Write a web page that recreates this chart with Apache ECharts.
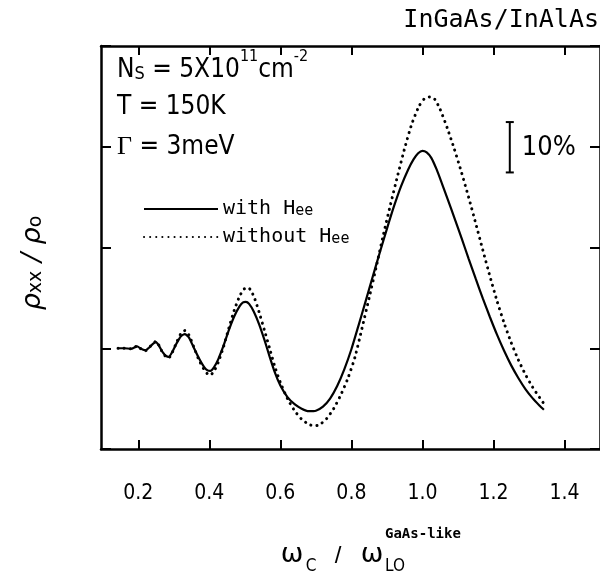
<!DOCTYPE html>
<html>
<head>
<meta charset="utf-8">
<script src="https://cdn.jsdelivr.net/npm/echarts@6/dist/echarts.min.js"></script>
<style>html,body{margin:0;padding:0;background:#fff}#c{width:600px;height:576px}</style>
</head>
<body>
<div id="c"></div>
<script>
// ---- data (x = ωc/ωLO, y = ρxx/ρ0) ----
var xTicks = [0.2, 0.4, 0.6, 0.8, 1.0, 1.2, 1.4];
var withHee = [
  [0.143,1.000],[0.160,1.000],[0.180,0.999],[0.190,1.002],[0.197,1.004],[0.205,1.000],[0.214,0.997],[0.220,0.996],
  [0.230,1.001],[0.242,1.009],[0.250,1.012],[0.258,1.005],[0.268,0.993],[0.278,0.985],[0.286,0.983],[0.296,0.993],
  [0.308,1.010],[0.320,1.024],[0.331,1.028],[0.342,1.022],[0.355,1.003],[0.370,0.981],[0.385,0.963],[0.395,0.956],
  [0.403,0.955],[0.413,0.962],[0.425,0.978],[0.440,1.005],[0.455,1.036],[0.470,1.063],[0.485,1.083],[0.495,1.091],
  [0.503,1.092],[0.512,1.088],[0.525,1.073],[0.540,1.048],[0.555,1.017],[0.570,0.983],[0.585,0.951],[0.600,0.926],
  [0.620,0.903],[0.640,0.889],[0.660,0.880],[0.680,0.875],[0.700,0.876],[0.720,0.884],[0.740,0.900],[0.760,0.925],
  [0.780,0.958],[0.800,0.998],[0.820,1.045],[0.840,1.093],[0.860,1.142],[0.880,1.190],[0.900,1.237],[0.920,1.282],
  [0.940,1.322],[0.960,1.355],[0.975,1.375],[0.988,1.387],[1.000,1.392],[1.012,1.389],[1.025,1.378],[1.040,1.355],
  [1.055,1.327],[1.070,1.298],[1.090,1.259],[1.110,1.219],[1.130,1.178],[1.150,1.138],[1.170,1.099],[1.190,1.062],
  [1.210,1.027],[1.230,0.995],[1.250,0.966],[1.270,0.941],[1.290,0.919],[1.310,0.901],[1.330,0.886],[1.342,0.878]
];
var withoutHee = [
  [0.143,1.000],[0.160,1.000],[0.180,0.999],[0.190,1.002],[0.197,1.005],[0.205,1.000],[0.214,0.996],[0.220,0.995],
  [0.230,1.001],[0.242,1.010],[0.250,1.014],[0.258,1.006],[0.268,0.992],[0.278,0.983],[0.286,0.981],[0.296,0.992],
  [0.308,1.012],[0.320,1.029],[0.331,1.035],[0.342,1.027],[0.355,1.005],[0.370,0.978],[0.385,0.958],[0.395,0.949],
  [0.403,0.947],[0.413,0.954],[0.425,0.972],[0.440,1.003],[0.455,1.040],[0.470,1.075],[0.485,1.103],[0.497,1.117],
  [0.508,1.121],[0.517,1.115],[0.528,1.098],[0.540,1.072],[0.555,1.036],[0.570,0.999],[0.585,0.962],[0.600,0.932],
  [0.620,0.900],[0.640,0.876],[0.660,0.859],[0.680,0.849],[0.695,0.846],[0.710,0.848],[0.730,0.860],[0.750,0.880],
  [0.770,0.907],[0.790,0.940],[0.810,0.982],[0.830,1.040],[0.850,1.100],[0.870,1.162],[0.890,1.225],[0.910,1.285],
  [0.930,1.342],[0.950,1.397],[0.970,1.445],[0.990,1.480],[1.005,1.495],[1.020,1.499],[1.035,1.494],[1.050,1.474],
  [1.070,1.437],[1.090,1.395],[1.110,1.349],[1.130,1.300],[1.150,1.248],[1.170,1.195],[1.190,1.143],[1.210,1.094],
  [1.230,1.050],[1.250,1.011],[1.270,0.977],[1.290,0.948],[1.310,0.923],[1.330,0.902],[1.345,0.887]
];
var scaleBar = [1.246, 1.349, 1.449]; // x, y0, y1 : a 10% bar

var NARROW = '"Liberation Sans Narrow", "DejaVu Sans Condensed", "Liberation Sans"';
var chart = echarts.init(document.getElementById('c'));
var axisCommon = {
  type: 'value', min: 0.095, max: 1.5,
  axisLine: { show: true, onZero: false, lineStyle: { color: '#000', width: 2.5 } },
  axisTick: { show: true, inside: true, length: 9, customValues: xTicks, lineStyle: { color: '#000', width: 2 } },
  splitLine: { show: false }
};
var yCommon = {
  type: 'value', min: 0.8, max: 1.6, interval: 0.2,
  axisLine: { show: true, onZero: false, lineStyle: { color: '#000', width: 2.5 } },
  axisTick: { show: true, inside: true, length: 10, lineStyle: { color: '#000', width: 2 } },
  axisLabel: { show: false },
  splitLine: { show: false }
};
var option = {
  animation: false,
  backgroundColor: '#fff',
  grid: { left: 101, right: -4, top: 46, bottom: 127, containLabel: false },
  xAxis: [
    Object.assign({}, axisCommon, {
      position: 'bottom',
      axisLabel: { show: true, customValues: xTicks, margin: 34, color: '#000',
        fontFamily: NARROW, fontSize: 21,
        formatter: function (v) { return v.toFixed(1); } }
    }),
    Object.assign({}, axisCommon, { position: 'top', axisLabel: { show: false } })
  ],
  yAxis: [
    Object.assign({}, yCommon, { position: 'left' }),
    Object.assign({}, yCommon, { position: 'right' })
  ],
  legend: {
    left: 143, top: 199, orient: 'vertical', padding: 0, itemWidth: 74, itemHeight: 14, itemGap: 8,
    data: ['with Hee', 'without Hee'],
    itemStyle: { opacity: 0 },
    formatter: function (n) { return n === 'with Hee' ? '{t|with H}{s|ee}' : '{t|without H}{s|ee}'; },
    textStyle: { color: '#000', rich: {
      t: { fontFamily: 'DejaVu Sans Mono', fontSize: 20, lineHeight: 20 },
      s: { fontFamily: 'DejaVu Sans Mono', fontSize: 15, lineHeight: 20, verticalAlign: 'bottom' }
    } }
  },
  series: [
    { name: 'with Hee', type: 'line', data: withHee, showSymbol: false, symbol: 'none', smooth: 0.2,
      lineStyle: { color: '#000', width: 2.2 }, itemStyle: { color: '#000' } },
    { name: 'without Hee', type: 'line', data: withoutHee, showSymbol: false, symbol: 'none', smooth: 0.2,
      lineStyle: { color: '#000', width: 3, type: [0.1, 6], cap: 'round' }, itemStyle: { color: '#000' } }
  ]
};
chart.setOption(option);

var p0 = chart.convertToPixel({ gridIndex: 0 }, [scaleBar[0], scaleBar[1]]);
var p1 = chart.convertToPixel({ gridIndex: 0 }, [scaleBar[0], scaleBar[2]]);
var ls = { stroke: '#000', lineWidth: 2 };
chart.setOption({
  graphic: [
    { type: 'line', shape: { x1: p0[0], y1: p0[1], x2: p1[0], y2: p1[1] }, style: ls },
    { type: 'line', shape: { x1: p0[0] - 4, y1: p0[1], x2: p0[0] + 4, y2: p0[1] }, style: ls },
    { type: 'line', shape: { x1: p1[0] - 4, y1: p1[1], x2: p1[0] + 4, y2: p1[1] }, style: ls },
    { type: 'text', x: p0[0] + 12, y: (p0[1] + p1[1]) / 2 + 1, style: { text: '10%', fill: '#000',
      font: '27px ' + NARROW, verticalAlign: 'middle', align: 'left' } },
    { type: 'text', x: 599, y: 20, style: { text: 'InGaAs/InAlAs', fill: '#000',
      font: '25px "DejaVu Sans Mono"', align: 'right', verticalAlign: 'middle' } },
    { type: 'text', x: 117, y: 66, style: {
      text: '{a|N}{s|S}{a| = 5X10}{p|11}{a|cm}{p|-2}', fill: '#000', verticalAlign: 'middle',
      rich: {
        a: { fontFamily: NARROW, fontSize: 26, lineHeight: 34, verticalAlign: 'bottom' },
        s: { fontFamily: NARROW, fontSize: 18, lineHeight: 18, verticalAlign: 'bottom' },
        p: { fontFamily: NARROW, fontSize: 16, lineHeight: 16, verticalAlign: 'top' }
      } } },
    { type: 'text', x: 117, y: 107, style: { text: 'T = 150K', fill: '#000',
      font: '26px ' + NARROW, verticalAlign: 'middle' } },
    { type: 'text', x: 117, y: 147, style: { text: '{g|Γ}{a| = 3meV}', fill: '#000', verticalAlign: 'middle',
      rich: { g: { fontFamily: 'Liberation Serif', fontSize: 26 }, a: { fontFamily: NARROW, fontSize: 26 } } } },
    { type: 'text', x: 31, y: 263, rotation: Math.PI / 2, style: {
      text: '{r|ρ}{s|xx}{r| / ρ}{s|o}', fill: '#000', align: 'center', verticalAlign: 'middle',
      rich: {
        r: { fontFamily: 'DejaVu Sans', fontStyle: 'italic', fontSize: 27, lineHeight: 30, verticalAlign: 'bottom' },
        s: { fontFamily: 'DejaVu Sans', fontSize: 19, lineHeight: 18, verticalAlign: 'bottom' }
      } } },
    { type: 'text', x: 292, y: 555, style: { text: 'ω', fill: '#000', font: '27px "DejaVu Sans"', align: 'center', verticalAlign: 'middle' } },
    { type: 'text', x: 311, y: 567, style: { text: 'C', fill: '#000', font: '17px ' + NARROW, align: 'center', verticalAlign: 'middle' } },
    { type: 'text', x: 338, y: 556, style: { text: '/', fill: '#000', font: '24px "Liberation Sans"', align: 'center', verticalAlign: 'middle' } },
    { type: 'text', x: 372, y: 555, style: { text: 'ω', fill: '#000', font: '27px "DejaVu Sans"', align: 'center', verticalAlign: 'middle' } },
    { type: 'text', x: 395, y: 567, style: { text: 'LO', fill: '#000', font: '17px ' + NARROW, align: 'center', verticalAlign: 'middle' } },
    { type: 'text', x: 385, y: 534, style: { text: 'GaAs-like', fill: '#000', font: 'bold 14px "DejaVu Sans Mono"', align: 'left', verticalAlign: 'middle' } }
  ]
});
</script>
</body>
</html>
